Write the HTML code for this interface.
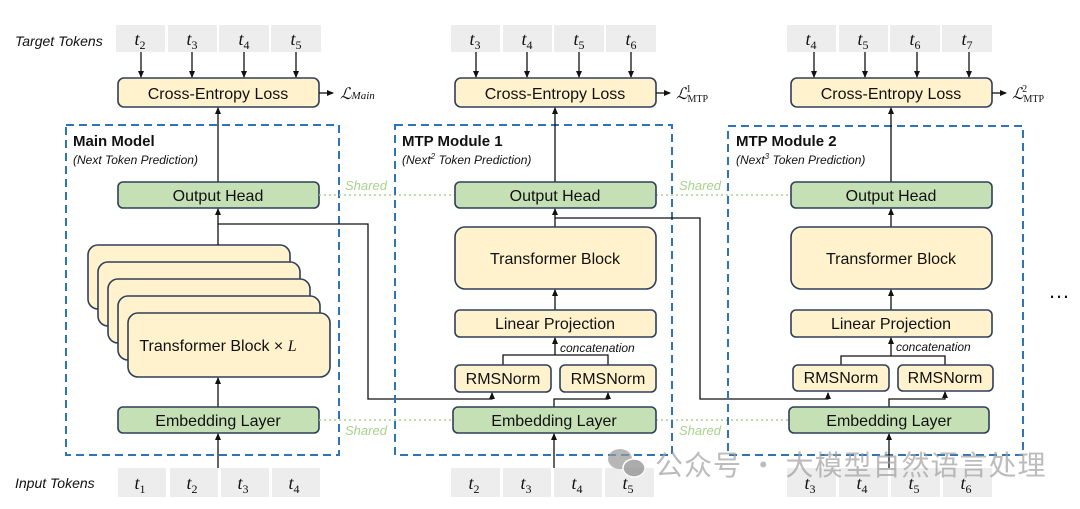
<!DOCTYPE html>
<html><head><meta charset="utf-8"><style>
body{margin:0;background:#fff;}
svg{display:block;font-family:"Liberation Sans","DejaVu Sans",sans-serif;}
</style></head><body>
<svg width="1080" height="509" viewBox="0 0 1080 509" xmlns="http://www.w3.org/2000/svg">
<defs>
<marker id="a" markerWidth="8" markerHeight="8" refX="6" refY="4" orient="auto" markerUnits="userSpaceOnUse">
<path d="M0,1 L7,4 L0,7 z" fill="#111"/></marker>
</defs>
<style>
.y{fill:#fff2cc;stroke:#2f3e5a;stroke-width:1.6}
.g{fill:#c5e0b4;stroke:#2f3e5a;stroke-width:1.6}
.tk{fill:#ededed}
.ln{stroke:#111;stroke-width:1.3;fill:none}
.dash{fill:none;stroke:#2e75b6;stroke-width:2;stroke-dasharray:8,5}
.dot{stroke:#a9d18e;stroke-width:1.6;stroke-dasharray:2,3}
.t{font-size:16px;fill:#111;text-anchor:middle}
.tok{font-family:"Liberation Serif",serif;font-style:italic;font-size:18px;fill:#111;text-anchor:middle}
.sh{font-size:13px;font-style:italic;fill:#a9d18e}
</style>

<text x="15" y="46" font-size="14" font-style="italic" fill="#111">Target Tokens</text>
<text x="15" y="488" font-size="14" font-style="italic" fill="#111">Input Tokens</text>

<g>
<rect class="tk" x="116" y="25" width="49" height="27"/><rect class="tk" x="168" y="25" width="49" height="27"/>
<rect class="tk" x="219" y="25" width="50" height="27"/><rect class="tk" x="271" y="25" width="50" height="27"/>
<text class="tok" x="140" y="45">t<tspan font-size="12" dy="4" font-style="normal">2</tspan></text>
<text class="tok" x="192" y="45">t<tspan font-size="12" dy="4" font-style="normal">3</tspan></text>
<text class="tok" x="244" y="45">t<tspan font-size="12" dy="4" font-style="normal">4</tspan></text>
<text class="tok" x="296" y="45">t<tspan font-size="12" dy="4" font-style="normal">5</tspan></text>
<line class="ln" x1="141" y1="52" x2="141" y2="77" marker-end="url(#a)"/>
<line class="ln" x1="192" y1="52" x2="192" y2="77" marker-end="url(#a)"/>
<line class="ln" x1="244" y1="52" x2="244" y2="77" marker-end="url(#a)"/>
<line class="ln" x1="296" y1="52" x2="296" y2="77" marker-end="url(#a)"/>
<rect class="y" x="118" y="78" width="201" height="29" rx="6"/>
<text class="t" x="218" y="99">Cross-Entropy Loss</text>
<line class="ln" x1="319" y1="93" x2="333" y2="93" marker-end="url(#a)"/>
<text x="340" y="99" font-family="Liberation Serif,serif" font-style="italic" font-size="16" fill="#111">ℒ<tspan font-size="11">Main</tspan></text>
<rect class="dash" x="66" y="125" width="273" height="330"/>
<text x="73" y="146" font-size="15" font-weight="bold" fill="#111">Main Model</text>
<text x="73" y="164" font-size="12" font-style="italic" fill="#111">(Next Token Prediction)</text>
<line class="ln" x1="218" y1="182" x2="218" y2="108" marker-end="url(#a)"/>
<rect class="g" x="118" y="182" width="201" height="26" rx="5"/>
<text class="t" x="218" y="201">Output Head</text>
<rect class="y" x="88" y="245" width="202" height="64" rx="10"/>
<rect class="y" x="98" y="262" width="202" height="64" rx="10"/>
<rect class="y" x="108" y="279" width="202" height="64" rx="10"/>
<rect class="y" x="118" y="296" width="202" height="64" rx="10"/>
<rect class="y" x="128" y="313" width="202" height="64" rx="10"/>
<text class="t" x="218" y="351">Transformer Block × <tspan font-family="Liberation Serif,serif" font-style="italic">L</tspan></text>
<line class="ln" x1="218" y1="245" x2="218" y2="209" marker-end="url(#a)"/>
<polyline class="ln" points="218,224 368,224 368,399 492,399 492,393" marker-end="url(#a)"/>
<line class="ln" x1="218" y1="407" x2="218" y2="378" marker-end="url(#a)"/>
<rect class="g" x="118" y="407" width="201" height="26" rx="5"/>
<text class="t" x="218" y="426">Embedding Layer</text>
<line class="ln" x1="218" y1="468" x2="218" y2="434" marker-end="url(#a)"/>
<rect class="tk" x="118" y="468" width="48" height="29"/><rect class="tk" x="170" y="468" width="48" height="29"/>
<rect class="tk" x="221" y="468" width="48" height="29"/><rect class="tk" x="272" y="468" width="48" height="29"/>
<text class="tok" x="140" y="489">t<tspan font-size="12" dy="4" font-style="normal">1</tspan></text>
<text class="tok" x="192" y="489">t<tspan font-size="12" dy="4" font-style="normal">2</tspan></text>
<text class="tok" x="243" y="489">t<tspan font-size="12" dy="4" font-style="normal">3</tspan></text>
<text class="tok" x="294" y="489">t<tspan font-size="12" dy="4" font-style="normal">4</tspan></text>
</g>

<line class="dot" x1="319" y1="195" x2="455" y2="195"/>
<line class="dot" x1="319" y1="420" x2="453" y2="420"/>
<line class="dot" x1="656" y1="195" x2="791" y2="195"/>
<line class="dot" x1="656" y1="420" x2="789" y2="420"/>
<text class="sh" x="345" y="190">Shared</text>
<text class="sh" x="345" y="435">Shared</text>
<text class="sh" x="679" y="190">Shared</text>
<text class="sh" x="679" y="435">Shared</text>

<g>
<rect class="tk" x="451" y="25" width="49" height="27"/><rect class="tk" x="503" y="25" width="49" height="27"/>
<rect class="tk" x="554" y="25" width="50" height="27"/><rect class="tk" x="606" y="25" width="50" height="27"/>
<text class="tok" x="475" y="45">t<tspan font-size="12" dy="4" font-style="normal">3</tspan></text>
<text class="tok" x="527" y="45">t<tspan font-size="12" dy="4" font-style="normal">4</tspan></text>
<text class="tok" x="579" y="45">t<tspan font-size="12" dy="4" font-style="normal">5</tspan></text>
<text class="tok" x="631" y="45">t<tspan font-size="12" dy="4" font-style="normal">6</tspan></text>
<line class="ln" x1="476" y1="52" x2="476" y2="77" marker-end="url(#a)"/>
<line class="ln" x1="527" y1="52" x2="527" y2="77" marker-end="url(#a)"/>
<line class="ln" x1="579" y1="52" x2="579" y2="77" marker-end="url(#a)"/>
<line class="ln" x1="631" y1="52" x2="631" y2="77" marker-end="url(#a)"/>
<rect class="y" x="455" y="78" width="201" height="29" rx="6"/>
<text class="t" x="555" y="99">Cross-Entropy Loss</text>
<line class="ln" x1="656" y1="93" x2="670" y2="93" marker-end="url(#a)"/>
<text x="676" y="99" font-family="Liberation Serif,serif" font-style="italic" font-size="16" fill="#111">ℒ<tspan font-size="10" font-style="normal" dy="3">MTP</tspan><tspan font-size="10" font-style="normal" dx="-22" dy="-10">1</tspan></text>
<rect class="dash" x="395" y="125" width="277" height="330"/>
<text x="402" y="146" font-size="15" font-weight="bold" fill="#111">MTP Module 1</text>
<text x="402" y="164" font-size="12" font-style="italic" fill="#111">(Next<tspan font-size="8" dy="-5">2</tspan><tspan dy="5"> Token Prediction)</tspan></text>
<line class="ln" x1="555" y1="182" x2="555" y2="108" marker-end="url(#a)"/>
<rect class="g" x="455" y="182" width="201" height="26" rx="5"/>
<text class="t" x="555" y="201">Output Head</text>
<line class="ln" x1="555" y1="227" x2="555" y2="209" marker-end="url(#a)"/>
<rect class="y" x="455" y="227" width="201" height="62" rx="10"/>
<text class="t" x="555" y="264">Transformer Block</text>
<polyline class="ln" points="555,218 700,218 700,399 828,399 828,393" marker-end="url(#a)"/>
<line class="ln" x1="555" y1="310" x2="555" y2="290" marker-end="url(#a)"/>
<rect class="y" x="455" y="310" width="201" height="27" rx="5"/>
<text class="t" x="555" y="329">Linear Projection</text>
<polyline class="ln" points="503,365 503,355 608,355 608,365"/>
<line class="ln" x1="555" y1="355" x2="555" y2="338" marker-end="url(#a)"/>
<text x="560" y="352" font-size="12" font-style="italic" fill="#111">concatenation</text>
<rect class="y" x="455" y="365" width="96" height="27" rx="5"/>
<rect class="y" x="560" y="365" width="96" height="27" rx="5"/>
<text class="t" x="503" y="384">RMSNorm</text>
<text class="t" x="608" y="384">RMSNorm</text>
<polyline class="ln" points="554,407 554,399 608,399 608,393" marker-end="url(#a)"/>
<rect class="g" x="453" y="407" width="203" height="26" rx="5"/>
<text class="t" x="554" y="426">Embedding Layer</text>
<line class="ln" x1="554" y1="468" x2="554" y2="434" marker-end="url(#a)"/>
<rect class="tk" x="451" y="468" width="49" height="29"/><rect class="tk" x="503" y="468" width="48" height="29"/>
<rect class="tk" x="554" y="468" width="48" height="29"/><rect class="tk" x="605" y="468" width="49" height="29"/>
<text class="tok" x="474" y="489">t<tspan font-size="12" dy="4" font-style="normal">2</tspan></text>
<text class="tok" x="526" y="489">t<tspan font-size="12" dy="4" font-style="normal">3</tspan></text>
<text class="tok" x="577" y="489">t<tspan font-size="12" dy="4" font-style="normal">4</tspan></text>
<text class="tok" x="628" y="489">t<tspan font-size="12" dy="4" font-style="normal">5</tspan></text>
</g>

<g>
<rect class="tk" x="787" y="25" width="49" height="27"/><rect class="tk" x="839" y="25" width="49" height="27"/>
<rect class="tk" x="890" y="25" width="50" height="27"/><rect class="tk" x="942" y="25" width="50" height="27"/>
<text class="tok" x="811" y="45">t<tspan font-size="12" dy="4" font-style="normal">4</tspan></text>
<text class="tok" x="863" y="45">t<tspan font-size="12" dy="4" font-style="normal">5</tspan></text>
<text class="tok" x="915" y="45">t<tspan font-size="12" dy="4" font-style="normal">6</tspan></text>
<text class="tok" x="967" y="45">t<tspan font-size="12" dy="4" font-style="normal">7</tspan></text>
<line class="ln" x1="814" y1="52" x2="814" y2="77" marker-end="url(#a)"/>
<line class="ln" x1="865" y1="52" x2="865" y2="77" marker-end="url(#a)"/>
<line class="ln" x1="917" y1="52" x2="917" y2="77" marker-end="url(#a)"/>
<line class="ln" x1="969" y1="52" x2="969" y2="77" marker-end="url(#a)"/>
<rect class="y" x="791" y="78" width="201" height="29" rx="6"/>
<text class="t" x="891" y="99">Cross-Entropy Loss</text>
<line class="ln" x1="992" y1="93" x2="1006" y2="93" marker-end="url(#a)"/>
<text x="1012" y="99" font-family="Liberation Serif,serif" font-style="italic" font-size="16" fill="#111">ℒ<tspan font-size="10" font-style="normal" dy="3">MTP</tspan><tspan font-size="10" font-style="normal" dx="-22" dy="-10">2</tspan></text>
<rect class="dash" x="728" y="126" width="295" height="329"/>
<text x="736" y="146" font-size="15" font-weight="bold" fill="#111">MTP Module 2</text>
<text x="736" y="164" font-size="12" font-style="italic" fill="#111">(Next<tspan font-size="8" dy="-5">3</tspan><tspan dy="5"> Token Prediction)</tspan></text>
<line class="ln" x1="891" y1="182" x2="891" y2="108" marker-end="url(#a)"/>
<rect class="g" x="791" y="182" width="201" height="26" rx="5"/>
<text class="t" x="891" y="201">Output Head</text>
<line class="ln" x1="891" y1="227" x2="891" y2="209" marker-end="url(#a)"/>
<rect class="y" x="791" y="227" width="201" height="62" rx="10"/>
<text class="t" x="891" y="264">Transformer Block</text>
<line class="ln" x1="891" y1="310" x2="891" y2="290" marker-end="url(#a)"/>
<rect class="y" x="791" y="310" width="201" height="27" rx="5"/>
<text class="t" x="891" y="329">Linear Projection</text>
<polyline class="ln" points="841,365 841,356 945,356 945,365"/>
<line class="ln" x1="891" y1="356" x2="891" y2="338" marker-end="url(#a)"/>
<text x="896" y="351" font-size="12" font-style="italic" fill="#111">concatenation</text>
<rect class="y" x="793" y="365" width="96" height="26" rx="5"/>
<rect class="y" x="898" y="365" width="95" height="26" rx="5"/>
<text class="t" x="841" y="383">RMSNorm</text>
<text class="t" x="945" y="383">RMSNorm</text>
<polyline class="ln" points="889,407 889,399 945,399 945,392" marker-end="url(#a)"/>
<rect class="g" x="789" y="407" width="200" height="26" rx="5"/>
<text class="t" x="889" y="426">Embedding Layer</text>
<line class="ln" x1="889" y1="468" x2="889" y2="434" marker-end="url(#a)"/>
<rect class="tk" x="787" y="468" width="49" height="29"/><rect class="tk" x="839" y="468" width="49" height="29"/>
<rect class="tk" x="891" y="468" width="49" height="29"/><rect class="tk" x="943" y="468" width="49" height="29"/>
<text class="tok" x="810" y="489">t<tspan font-size="12" dy="4" font-style="normal">3</tspan></text>
<text class="tok" x="862" y="489">t<tspan font-size="12" dy="4" font-style="normal">4</tspan></text>
<text class="tok" x="914" y="489">t<tspan font-size="12" dy="4" font-style="normal">5</tspan></text>
<text class="tok" x="966" y="489">t<tspan font-size="12" dy="4" font-style="normal">6</tspan></text>
</g>

<text x="1048" y="298" font-size="22" fill="#111">…</text>

<g opacity="0.7">
<ellipse cx="620" cy="459" rx="12" ry="10" fill="#9a9a9a"/>
<ellipse cx="634" cy="468" rx="11" ry="9" fill="#8a8a8a" stroke="#fff" stroke-width="1.5"/>
<text x="655" y="475" font-family="'Noto Sans CJK SC','WenQuanYi Zen Hei',sans-serif" font-size="28" letter-spacing="1" fill="#a0a0a0">公众号 · 大模型自然语言处理</text>
</g>
</svg>
</body></html>
